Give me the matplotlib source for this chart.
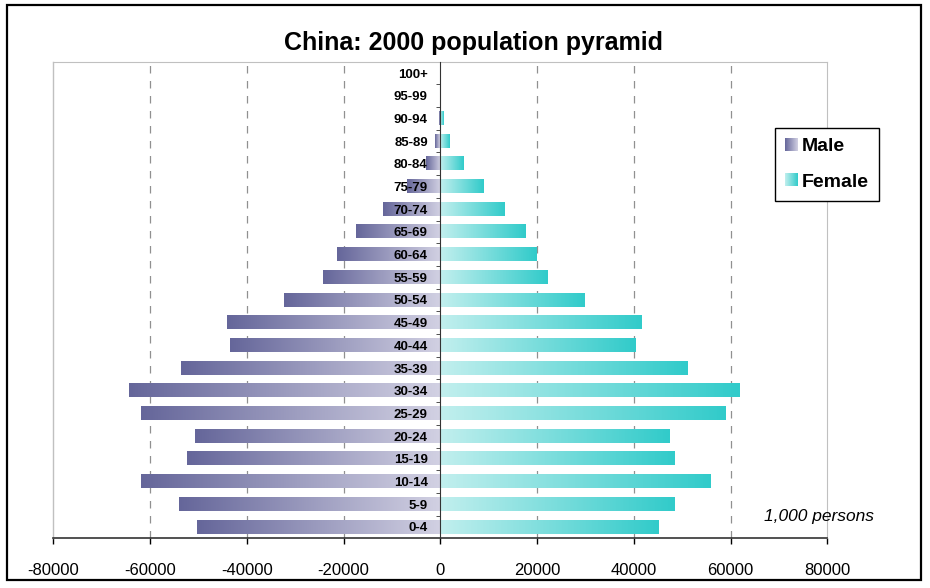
import numpy as np
import matplotlib.pyplot as plt
from matplotlib.colors import LinearSegmentedColormap
from matplotlib.patches import Rectangle
from matplotlib.legend_handler import HandlerBase
from matplotlib.image import BboxImage
from matplotlib.transforms import Bbox, TransformedBbox

plt.rcParams['font.family'] = ['Liberation Sans', 'DejaVu Sans']
plt.rcParams['axes.unicode_minus'] = False

ages = ['0-4', '5-9', '10-14', '15-19', '20-24', '25-29', '30-34', '35-39',
        '40-44', '45-49', '50-54', '55-59', '60-64', '65-69', '70-74',
        '75-79', '80-84', '85-89', '90-94', '95-99', '100+']
male = [-50300, -54000, -61800, -52300, -50700, -61800, -64300, -53600,
        -43500, -44100, -32300, -24300, -21400, -17500, -11900,
        -6900, -3000, -1000, -350, -50, -5]
female = [45100, 48400, 55900, 48400, 47400, 59000, 61900, 51100,
          40400, 41600, 29800, 22300, 20000, 17600, 13300,
          8900, 4800, 1900, 700, 100, 10]

male_cmap = LinearSegmentedColormap.from_list('m', ['#65669a', '#d2d1e3'])
female_cmap = LinearSegmentedColormap.from_list('f', ['#c2efee', '#31cbca'])
grad = np.linspace(0, 1, 256).reshape(1, -1)

fig = plt.figure(figsize=(9.3, 5.88), dpi=100)
ax = fig.add_axes([53.3 / 930, 49.7 / 588, 774 / 930, 476.6 / 588])

h = 0.58
for i in range(len(ages)):
    ax.imshow(grad, extent=[male[i], 0, i - h / 2, i + h / 2],
              aspect='auto', cmap=male_cmap, zorder=1)
    ax.imshow(grad, extent=[0, female[i], i - h / 2, i + h / 2],
              aspect='auto', cmap=female_cmap, zorder=1)

ax.set_xlim(-80000, 80000)
ax.set_ylim(-0.5, len(ages) - 0.5)

for x in [-60000, -40000, -20000, 20000, 40000, 60000]:
    ax.axvline(x, color='#909090', linestyle=(0, (6, 6)), linewidth=0.9, zorder=0)

ax.set_xticks(np.arange(-80000, 80001, 20000))
ax.tick_params(axis='x', direction='out', length=4, labelsize=12, width=1, pad=14)

ax.spines['left'].set_position(('data', 0))
ax.spines['left'].set_color('#333333')
ax.spines['left'].set_zorder(3)
for s in ['top', 'right']:
    ax.spines[s].set_color('#c0c0c0')
ax.spines['bottom'].set_color('#333333')
ax.spines['bottom'].set_linewidth(1.2)

ax.set_yticks(np.arange(len(ages)))
ax.set_yticklabels(ages, fontsize=9.5, fontweight='bold')
ax.tick_params(axis='y', length=0, pad=9)
ax.set_yticks(np.arange(len(ages) - 1) + 0.5, minor=True)
ax.tick_params(axis='y', which='minor', length=3, direction='out', color='#333333')

# left edge of plot area
ax.plot([0, 0], [0, 1], transform=ax.transAxes, color='#c0c0c0', linewidth=1, clip_on=False)

fig.text(473 / 930, 1 - 43 / 588, 'China: 2000 population pyramid',
         ha='center', va='center', fontsize=18, fontweight='bold')

ax.text(819 / 930, 1 - 517 / 588, '1,000 persons', transform=fig.transFigure,
        ha='center', va='center', fontsize=12.5, style='italic')


class GradHandler(HandlerBase):
    def __init__(self, cmap):
        super().__init__()
        self.cmap = cmap

    def create_artists(self, legend, orig_handle, xdescent, ydescent,
                       width, height, fontsize, trans):
        s = min(width, height)
        im = BboxImage(TransformedBbox(Bbox.from_bounds(-xdescent, -ydescent, s, s), trans),
                       cmap=self.cmap)
        im.set_data(grad)
        return [im]


hm = Rectangle((0, 0), 1, 1)
hf = Rectangle((0, 0), 1, 1)
leg = ax.legend([hm, hf], ['Male', 'Female'],
                handler_map={hm: GradHandler(male_cmap), hf: GradHandler(female_cmap)},
                loc='upper left', bbox_to_anchor=(775 / 930, 1 - 128 / 588),
                bbox_transform=fig.transFigure, fancybox=False, framealpha=1,
                edgecolor='black', prop={'weight': 'bold', 'size': 14},
                handlelength=0.65, handleheight=0.65, handletextpad=0.25,
                labelspacing=0.95, borderpad=0.5, borderaxespad=0)
leg.get_frame().set_linewidth(1.0)

fig.patches.append(Rectangle((7 / 930, 8 / 588), 914 / 930, 575 / 588,
                             transform=fig.transFigure, fill=False,
                             edgecolor='black', linewidth=1.6))

plt.savefig('out.png', dpi=100)
